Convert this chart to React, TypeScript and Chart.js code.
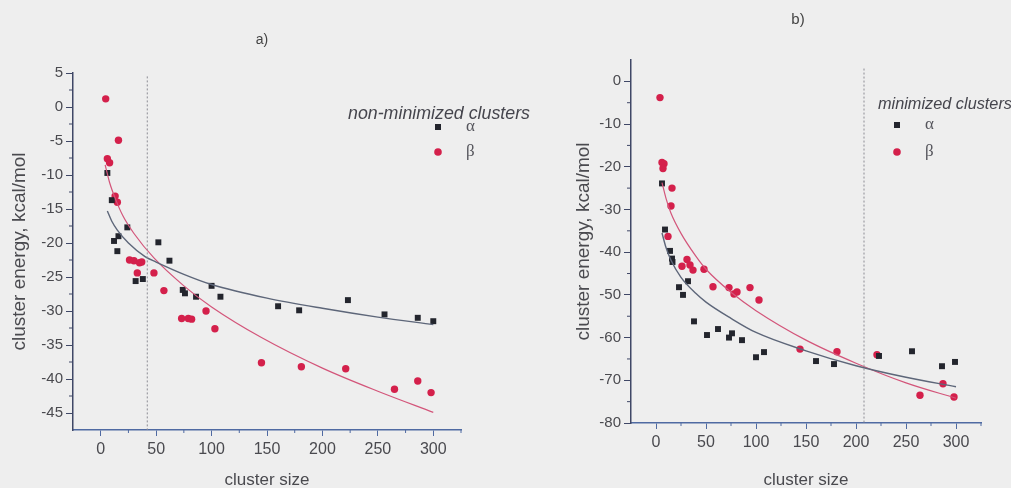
import { useEffect, useRef } from 'react';
import { Chart, registerables } from 'chart.js';

Chart.register(...registerables);

// ---------- data: panel a) non-minimized clusters ----------
const aAlphaX = [6, 10, 12, 16, 15, 24, 52, 31.5, 38, 62, 74, 76, 86, 100, 108, 160, 179, 223, 256, 286, 300];
const aAlphaY = [-9.7, -13.7, -19.7, -19, -21.2, -17.7, -19.9, -25.6, -25.3, -22.6, -26.9, -27.4, -27.9, -26.3, -27.9, -29.3, -29.9, -28.4, -30.5, -31, -31.5];
const aBetaX = [4.5, 16, 6, 8, 13, 15, 26, 30, 35, 37, 33, 48, 57, 73, 79, 82, 95, 103, 145, 181, 221, 265, 286, 298];
const aBetaY = [1.2, -4.9, -7.6, -8.2, -13.1, -14, -22.5, -22.6, -22.9, -22.8, -24.4, -24.4, -27, -31.1, -31.1, -31.2, -30, -32.6, -37.6, -38.2, -38.5, -41.5, -40.3, -42];
const aFitAlphaX = [6, 10, 15, 25, 40, 50, 75, 100, 150, 200, 250, 300];
const aFitAlphaY = [-15.3, -16.8, -18.1, -20.0, -22.0, -22.8, -24.6, -26.1, -28.1, -29.6, -30.9, -32.0];
const aFitBetaX = [4, 8, 13, 20, 30, 48, 75, 100, 145, 200, 250, 300];
const aFitBetaY = [-8.5, -11.1, -13.4, -16, -18.6, -22.2, -26.3, -29.4, -33.9, -38.4, -41.8, -44.9];
const aCutX = 42;
const aYTicks = [5, 0, -5, -10, -15, -20, -25, -30, -35, -40, -45];
const aYMinor = [2.5, -2.5, -7.5, -12.5, -17.5, -22.5, -27.5, -32.5, -37.5, -42.5];

// ---------- data: panel b) minimized clusters ----------
const bAlphaX = [6, 9, 14, 16, 16.5, 23, 27, 32, 38, 51, 62, 73, 76, 86, 100, 108, 160, 178, 223, 256, 286, 299];
const bAlphaY = [-23.9, -34.7, -39.7, -41.5, -42.3, -48.2, -50, -46.8, -56.2, -59.4, -58, -60, -59, -60.6, -64.6, -63.4, -65.5, -66.2, -64.3, -63.2, -66.7, -65.7];
const bBetaX = [4, 6, 8, 7, 16, 15, 12, 26, 31, 34, 37, 48, 57, 73, 78, 81, 94, 103, 144, 181, 221, 264, 287, 298];
const bBetaY = [-3.8, -19, -19.3, -20.4, -25, -29.2, -36.3, -43.3, -41.7, -43, -44.2, -44, -48.1, -48.3, -49.8, -49.3, -48.3, -51.2, -62.7, -63.3, -64, -73.5, -70.8, -73.9];
const bFitAlphaX = [6, 10, 15, 25, 40, 50, 75, 100, 150, 200, 250, 300];
const bFitAlphaY = [-35.5, -38.9, -41.9, -45.9, -49.7, -51.7, -55.5, -58.8, -63.1, -66.6, -69.3, -71.5];
const bFitBetaX = [6, 10, 15, 25, 40, 50, 75, 100, 150, 200, 250, 300];
const bFitBetaY = [-23.7, -27.4, -30.9, -35.6, -41.0, -44.0, -49.4, -53.7, -60.6, -66.0, -70.6, -74.2];
const bCutX = 208;
const bYTicks = [0, -10, -20, -30, -40, -50, -60, -70, -80];
const bYMinor = [-5, -15, -25, -35, -45, -55, -65, -75];

// ---------- shared x axis ----------
const xTicks = [0, 50, 100, 150, 200, 250, 300];
const xMinor = [25, 75, 125, 175, 225, 275, 325];

const seriesNames = ['\u03b1', '\u03b2'];

const ALPHA_COLOR = '#23252d';
const BETA_COLOR = '#d4204b';
const FIT_ALPHA = '#5d6679';
const FIT_BETA = '#d3557a';
const TEXT = '#4a4a4f';

const pts = (xs: number[], ys: number[]) => xs.map((x, i) => ({ x, y: ys[i] }));

const minorTicksPlugin = {
  id: 'minorTicks',
  afterDraw(chart: any, _args: any, opts: any) {
    const ctx = chart.ctx;
    ctx.save();
    for (const m of opts.list || []) {
      const s = chart.scales[m.axis];
      ctx.strokeStyle = m.color;
      ctx.lineWidth = 1;
      ctx.beginPath();
      for (const v of m.values) {
        const p = s.getPixelForValue(v);
        if (m.axis === 'x') {
          ctx.moveTo(p, s.top);
          ctx.lineTo(p, s.top + m.len);
        } else {
          ctx.moveTo(s.right, p);
          ctx.lineTo(s.right - m.len, p);
        }
      }
      ctx.stroke();
    }
    ctx.restore();
  },
};

const annotPlugin = {
  id: 'annot',
  afterDraw(chart: any, _args: any, opts: any) {
    const ctx = chart.ctx;
    ctx.save();
    for (const t of opts.texts || []) {
      ctx.font = t.font;
      ctx.fillStyle = t.color || TEXT;
      ctx.textAlign = t.align || 'left';
      ctx.textBaseline = 'middle';
      if (t.maxWidth) ctx.fillText(t.text, t.x, t.y, t.maxWidth);
      else ctx.fillText(t.text, t.x, t.y);
    }
    const lg = opts.legend;
    if (lg) {
      // square marker
      ctx.fillStyle = ALPHA_COLOR;
      ctx.fillRect(lg.mx - 3, lg.y1 - 3, 6, 6);
      ctx.fillStyle = BETA_COLOR;
      ctx.beginPath();
      ctx.arc(lg.mx, lg.y2, 3.8, 0, Math.PI * 2);
      ctx.fill();
      ctx.fillStyle = '#55555c';
      ctx.font = '17px "Liberation Serif", serif';
      ctx.textAlign = 'left';
      ctx.textBaseline = 'middle';
      ctx.fillText(seriesNames[0], lg.tx, lg.y1);
      ctx.fillText(seriesNames[1], lg.tx, lg.y2);
    }
    ctx.restore();
  },
};

interface PanelCfg {
  alpha: { x: number; y: number }[];
  beta: { x: number; y: number }[];
  fitA: { x: number; y: number }[];
  fitB: { x: number; y: number }[];
  cutX: number;
  cutTop: number;
  yMin: number;
  yMax: number;
  yTicks: number[];
  yMinor: number[];
  yWidth: number;
  xHeight: number;
  padTop: number;
  padRight: number;
  yTitlePad: number;
  yTickFont: number;
  xTickFont: number;
  texts: any[];
  legend: any;
}

function makeConfig(p: PanelCfg): any {
  const axisY = '#3f4766';
  const axisX = '#4f6aa2';
  return {
    type: 'scatter',
    data: {
      datasets: [
        {
          data: pts([p.cutX, p.cutX], [p.cutTop, p.yMin]),
          showLine: true,
          borderColor: '#8c8c94',
          borderWidth: 1,
          borderDash: [2, 2],
          pointRadius: 0,
        },
        {
          data: p.fitA,
          showLine: true,
          borderColor: FIT_ALPHA,
          borderWidth: 1.4,
          pointRadius: 0,
          cubicInterpolationMode: 'monotone',
        },
        {
          data: p.fitB,
          showLine: true,
          borderColor: FIT_BETA,
          borderWidth: 1.2,
          pointRadius: 0,
          cubicInterpolationMode: 'monotone',
        },
        {
          data: p.alpha,
          pointStyle: 'rect',
          pointRadius: 4.2,
          backgroundColor: ALPHA_COLOR,
          borderColor: ALPHA_COLOR,
          borderWidth: 0,
        },
        {
          data: p.beta,
          pointStyle: 'circle',
          pointRadius: 3.7,
          backgroundColor: BETA_COLOR,
          borderColor: BETA_COLOR,
          borderWidth: 0,
        },
      ],
    },
    options: {
      animation: false,
      responsive: false,
      layout: { padding: { top: p.padTop, right: p.padRight, left: 0, bottom: 0 } },
      plugins: {
        legend: { display: false },
        tooltip: { enabled: false },
        minorTicks: {
          list: [
            { axis: 'x', values: xMinor, len: 3, color: axisX },
            { axis: 'y', values: p.yMinor, len: 4, color: axisY },
          ],
        },
        annot: { texts: p.texts, legend: p.legend },
      },
      scales: {
        x: {
          type: 'linear',
          min: -25,
          max: 325,
          afterBuildTicks: (s: any) => {
            s.ticks = xTicks.map((v) => ({ value: v }));
          },
          afterFit: (s: any) => {
            s.height = p.xHeight;
          },
          grid: { drawOnChartArea: false, drawTicks: true, tickLength: 6, color: axisX, lineWidth: 1 },
          border: { display: true, color: axisX, width: 1.5 },
          ticks: {
            color: TEXT,
            padding: 4,
            maxRotation: 0,
            font: { family: '"Liberation Sans", Arial, sans-serif', size: p.xTickFont },
          },
          title: {
            display: true,
            text: 'cluster size',
            color: TEXT,
            font: { family: '"Liberation Sans", Arial, sans-serif', size: 17 },
            padding: { top: 0, bottom: 9 },
          },
        },
        y: {
          type: 'linear',
          min: p.yMin,
          max: p.yMax,
          afterBuildTicks: (s: any) => {
            s.ticks = p.yTicks.map((v) => ({ value: v }));
          },
          afterFit: (s: any) => {
            s.width = p.yWidth;
          },
          grid: { drawOnChartArea: false, drawTicks: true, tickLength: 7, color: axisY, lineWidth: 1 },
          border: { display: true, color: axisY, width: 1.5 },
          ticks: {
            color: TEXT,
            padding: 3,
            font: { family: '"Liberation Sans", Arial, sans-serif', size: p.yTickFont },
          },
          title: {
            display: true,
            text: 'cluster energy, kcal/mol',
            color: TEXT,
            font: { family: '"Liberation Sans", Arial, sans-serif', size: 19 },
            padding: { top: p.yTitlePad, bottom: 0 },
          },
        },
      },
    },
    plugins: [minorTicksPlugin, annotPlugin],
  };
}

function Panel({ cfg, left, width }: { cfg: PanelCfg; left: number; width: number }) {
  const ref = useRef<HTMLCanvasElement | null>(null);
  useEffect(() => {
    if (!ref.current) return;
    const chart = new Chart(ref.current, makeConfig(cfg));
    return () => chart.destroy();
  }, []);
  return (
    <canvas
      ref={ref}
      width={width}
      height={500}
      style={{ position: 'absolute', left, top: 0, width, height: 500 }}
    />
  );
}

const panelA: PanelCfg = {
  alpha: pts(aAlphaX, aAlphaY),
  beta: pts(aBetaX, aBetaY),
  fitA: pts(aFitAlphaX, aFitAlphaY),
  fitB: pts(aFitBetaX, aFitBetaY),
  cutX: aCutX,
  cutTop: 4.5,
  yMin: -47.5,
  yMax: 5,
  yTicks: aYTicks,
  yMinor: aYMinor,
  yWidth: 73,
  xHeight: 70,
  padTop: 73,
  padRight: 109,
  yTitlePad: 8,
  yTickFont: 15,
  xTickFont: 16,
  texts: [
    { text: 'a)', x: 262, y: 40, font: '14px "Liberation Sans", Arial, sans-serif', color: '#444', align: 'center' },
    { text: 'non-minimized clusters', x: 348, y: 114, font: 'italic 18px "Liberation Sans", Arial, sans-serif', color: '#45454d', maxWidth: 182 },
  ],
  legend: { mx: 438, tx: 466, y1: 127, y2: 152 },
};

const panelB: PanelCfg = {
  alpha: pts(bAlphaX, bAlphaY),
  beta: pts(bBetaX, bBetaY),
  fitA: pts(bFitAlphaX, bFitAlphaY),
  fitB: pts(bFitBetaX, bFitBetaY),
  cutX: bCutX,
  cutTop: 3,
  yMin: -80,
  yMax: 5,
  yTicks: bYTicks,
  yMinor: bYMinor,
  yWidth: 61,
  xHeight: 77,
  padTop: 60,
  padRight: 30,
  yTitlePad: 2,
  yTickFont: 15,
  xTickFont: 16,
  texts: [
    { text: 'b)', x: 228, y: 20, font: '15px "Liberation Sans", Arial, sans-serif', color: '#444', align: 'center' },
    { text: 'minimized clusters', x: 308, y: 104, font: 'italic 17px "Liberation Sans", Arial, sans-serif', color: '#45454d', maxWidth: 134 },
  ],
  legend: { mx: 327, tx: 355, y1: 125, y2: 152 },
};

export default function App() {
  return (
    <div
      style={{
        position: 'fixed',
        left: 0,
        top: 0,
        width: 1011,
        height: 488,
        overflow: 'hidden',
        background: '#eeeeee',
      }}
    >
      <Panel cfg={panelA} left={0} width={570} />
      <Panel cfg={panelB} left={570} width={441} />
    </div>
  );
}
